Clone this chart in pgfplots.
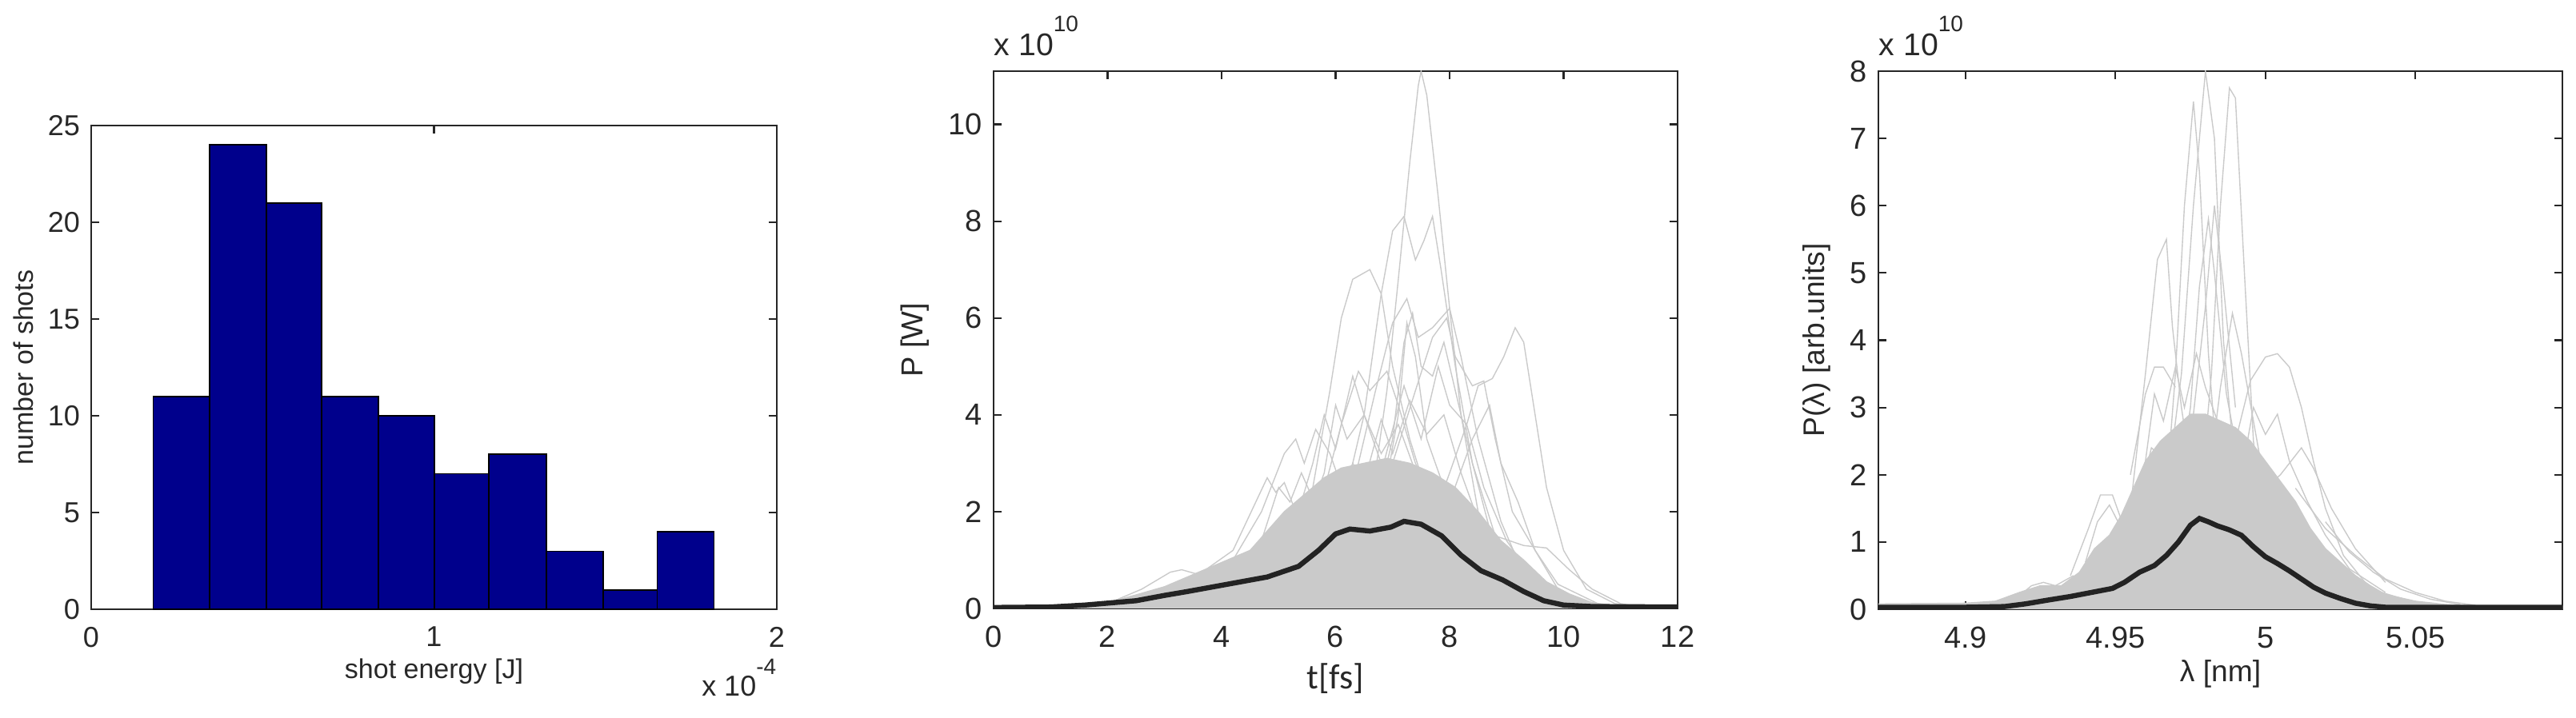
\documentclass[border=0pt]{standalone}
\usepackage{fontspec}
\setmainfont{Liberation Sans}
\newfontfamily\carlito{Carlito}
\usepackage{pgfplots}
\pgfplotsset{compat=1.18}

\definecolor{axcol}{RGB}{38,38,38}
\definecolor{txtcol}{RGB}{40,40,40}
\definecolor{histblue}{RGB}{0,0,140}
\definecolor{shotgray}{RGB}{202,202,202}
\definecolor{meancol}{RGB}{35,35,35}

\pgfplotsset{
  matlab/.style={
    scale only axis,
    anchor=south west,
    clip mode=individual,
    axis line style={axcol, line width=0.55pt},
    tick style={axcol, line width=0.55pt},
    major tick length=2.6pt,
    tick align=inside,
    /pgf/number format/assume math mode=true,
    tick label style={color=txtcol},
    label style={color=txtcol},
    xticklabel style={yshift=-2pt},
  },
  shot/.style={shotgray, line width=0.35pt, no marks},
  mean/.style={meancol, line width=1.6pt, no marks},
}

\begin{document}
\begin{tikzpicture}
\useasboundingbox (0,0) rectangle (805pt,224.5pt);

% ---- histogram of shot energies
\begin{axis}[matlab, at={(28.5pt,34pt)}, width=214.25pt, height=151.25pt,
  xmin=0, xmax=2, ymin=0, ymax=25,
  xtick={0,1,2}, ytick={0,5,...,25},
  tick label style={font=\fontsize{9}{9}\selectfont},
  xlabel={shot energy [J]}, ylabel={number of shots},
  label style={font=\fontsize{8.5}{8.5}\selectfont},
  xlabel style={at={(axis description cs:0.5,-0.129)},anchor=center},
  ylabel style={at={(axis description cs:-0.0992,0.5)},anchor=center},
]
\addplot[ybar interval, fill=histblue, draw=black, line width=0.45pt] coordinates {
(0.181,11) (0.345,24) (0.512,21) (0.672,11) (0.837,10) (1.002,7)
(1.160,8) (1.328,3) (1.493,1) (1.651,4) (1.817,4)};
\node[anchor=base east, inner sep=0, text=txtcol, font=\fontsize{9}{9}\selectfont]
  at ([yshift=-27pt]rel axis cs:1,0) {x 10\raisebox{6.75pt}{\fontsize{7}{7}\selectfont -4}};
\end{axis}

% ---- power profiles
\begin{axis}[matlab, at={(310.5pt,34.25pt)}, width=213.75pt, height=168pt,
  xmin=0, xmax=12, ymin=0, ymax=11.1,
  xtick={0,2,...,12}, ytick={0,2,...,10},
  tick label style={font=\fontsize{9.5}{9.5}\selectfont},
  xlabel={{\carlito t[fs]}}, ylabel={P [W]},
  xlabel style={font=\fontsize{11}{11}\selectfont, at={(axis description cs:0.5,-0.131)},anchor=center},
  ylabel style={font=\fontsize{9.5}{9.5}\selectfont, at={(axis description cs:-0.1146,0.5)},anchor=center},
]
\addplot[shotgray, fill=shotgray, draw=shotgray, line width=0.35pt] coordinates {
(0,0) (1.5,0.03) (2,0.12) (2.5,0.28) (3,0.45) (3.5,0.7) (4,0.95) (4.5,1.2)
(4.8,1.6) (5.1,2.0) (5.5,2.4) (5.8,2.7) (6.1,2.9) (6.5,3.0) (6.9,3.1) (7.3,3.0)
(7.7,2.8) (8.1,2.5) (8.5,2.0) (8.9,1.4) (9.3,1.0) (9.7,0.55) (10.1,0.3)
(10.5,0.12) (11,0.04) (11.5,0) (12,0)} \closedcycle;
\addplot[shot] coordinates {(6.2,0.5) (6.6,2) (6.9,4.5) (7.1,6.8) (7.3,9.2) (7.45,10.8) (7.5,11.1) (7.6,10.6) (7.8,8.5) (8.0,6.2) (8.2,4) (8.5,2) (8.9,0.8) (9.4,0.2) (10,0)};
\addplot[shot] coordinates {(7,0.5) (7.6,1.5) (8.0,2.8) (8.3,3.8) (8.5,4.6) (8.75,4.75) (8.95,5.2) (9.15,5.8) (9.3,5.5) (9.5,4) (9.7,2.5) (10,1.2) (10.4,0.4) (10.9,0.1) (11.5,0)};
\addplot[shot] coordinates {(4.5,0.2) (5.2,1) (5.6,2.5) (5.9,4.5) (6.1,6) (6.3,6.8) (6.6,7.0) (6.8,6.5) (7.0,5) (7.3,3.5) (7.7,2) (8.2,0.8) (8.8,0.2) (9.5,0)};
\addplot[shot] coordinates {(5.5,0.3) (6.0,1.5) (6.5,4) (6.8,6.5) (7.0,7.8) (7.2,8.1) (7.4,7.2) (7.55,7.6) (7.7,8.1) (7.85,7) (8.1,5) (8.4,3) (8.8,1.2) (9.3,0.3) (10,0)};
\addplot[shot] coordinates {(5.8,0.5) (6.3,2.5) (6.7,4.5) (7.0,5.9) (7.25,6.4) (7.45,5.6) (7.7,5.8) (8.0,6.2) (8.2,5.2) (8.5,3.5) (8.9,1.8) (9.3,0.7) (9.8,0.1) (10.3,0)};
\addplot[shot] coordinates {(3.5,0.5) (4.2,1) (4.7,2) (5.1,3.2) (5.3,3.5) (5.45,3.0) (5.65,3.7) (5.9,3.2) (6.2,2.2) (6.6,1.4) (7.2,0.8) (8,0.3) (9,0)};
\addplot[shot] coordinates {(3,0.3) (3.6,0.7) (4.2,1.2) (4.6,2.2) (4.8,2.7) (4.95,2.4) (5.1,2.6) (5.3,2.0) (5.7,1.5) (6.2,1.0) (7,0.4) (8,0)};
\addplot[shot] coordinates {(5.2,0.8) (5.7,2) (6.1,3.8) (6.4,4.9) (6.6,4.5) (6.9,4.9) (7.1,4.2) (7.4,3.0) (7.8,2.0) (8.4,1.0) (9,0.3) (9.6,0)};
\addplot[shot] coordinates {(6.5,1) (7.0,3) (7.4,4.5) (7.7,5.6) (7.95,6.0) (8.1,5.2) (8.4,4.6) (8.6,4.7) (8.8,3.5) (9.1,2) (9.5,1.2) (9.9,0.4) (10.5,0)};
\addplot[shot] coordinates {(8,1.5) (8.8,1.5) (9.3,1.3) (9.7,1.25) (10.1,0.8) (10.5,0.4) (11,0.1) (11.5,0)};
\addplot[shot] coordinates {(2,0.1) (2.6,0.4) (3.1,0.75) (3.3,0.8) (3.6,0.7) (4,0.9) (4.4,1.1) (5,1.4) (5.5,1.8)};
\addplot[shot] coordinates {(5.4,1.5) (5.8,2.8) (6.0,4.2) (6.2,3.5) (6.5,4.0) (6.8,3.2) (7.1,3.8) (7.5,2.5) (8,1.5) (8.6,0.6) (9.2,0)};
\addplot[shot] coordinates {(4.3,0.5) (4.7,1.4) (5.0,2.5) (5.2,2.2) (5.4,2.8) (5.7,2.0) (6.2,1.2) (7,0.5) (8,0.1)};
\addplot[shot] coordinates {(5.6,0.8) (6.0,2.0) (6.3,3.0) (6.5,2.6) (6.8,3.9) (7.0,3.2) (7.3,4.3) (7.6,3.6) (7.9,4.0) (8.2,2.8) (8.6,1.5) (9.1,0.5) (9.8,0)};
\addplot[shot] coordinates {(6.0,1.0) (6.4,2.2) (6.8,2.8) (7.2,4.6) (7.5,3.5) (7.8,5.0) (8.0,4.2) (8.3,3.8) (8.6,2.5) (9.0,1.4) (9.6,0.4) (10.2,0)};
\addplot[shot] coordinates {(4.9,1.0) (5.3,1.8) (5.6,3.0) (5.8,4.0) (6.0,3.3) (6.3,4.8) (6.5,4.0) (6.8,3.0) (7.2,2.0) (7.8,0.9) (8.5,0.2)};
\addplot[shot] coordinates {(7.5,1) (8.0,2.2) (8.4,3.5) (8.7,4.2) (8.9,3.0) (9.2,2.2) (9.5,1.2) (9.9,0.5) (10.6,0.1)};
\addplot[shot] coordinates {(6.6,1.5) (7.0,3.5) (7.2,5.5) (7.35,6.1) (7.5,5.0) (7.7,4.8) (7.9,5.5) (8.1,4.5) (8.4,3.0) (8.8,1.5) (9.3,0.5)};
\addplot[shot] coordinates {(6.8,2) (7.1,4) (7.25,5.9) (7.4,5.2) (7.6,3.5) (7.9,2.5) (8.3,1.4)};
\addplot[mean] coordinates {
(0,0.02) (1,0.03) (1.6,0.07) (2.5,0.16) (3.0,0.27) (3.4,0.35) (4.1,0.5) (4.8,0.65)
(5.35,0.87) (5.7,1.2) (6.0,1.54) (6.25,1.64) (6.6,1.6) (6.97,1.68) (7.2,1.8)
(7.5,1.74) (7.86,1.5) (8.2,1.1) (8.55,0.78) (8.93,0.59) (9.3,0.35) (9.65,0.16)
(10.0,0.07) (10.5,0.04) (12,0.03)};
\node[anchor=base west, inner sep=0, text=txtcol, font=\fontsize{9.8}{9.8}\selectfont]
  at ([yshift=4.75pt]rel axis cs:0,1) {x 10\raisebox{7.5pt}{\fontsize{7}{7}\selectfont 10}};
\end{axis}

% ---- spectra
\begin{axis}[matlab, at={(587pt,34pt)}, width=213.75pt, height=168.25pt,
  xmin=4.871, xmax=5.099, ymin=0, ymax=8,
  xtick={4.9,4.95,5,5.05}, ytick={0,1,...,8},
  tick label style={font=\fontsize{9.5}{9.5}\selectfont},
  xlabel={λ [nm]}, ylabel={P(λ) [arb.units]},
  label style={font=\fontsize{9.3}{9.3}\selectfont},
  xlabel style={at={(axis description cs:0.5,-0.1204)},anchor=center},
  ylabel style={at={(axis description cs:-0.090,0.5)},anchor=center},
]
\addplot[shotgray, fill=shotgray, draw=shotgray, line width=0.35pt] coordinates {
(4.871,0.08) (4.9,0.09) (4.91,0.12) (4.918,0.25) (4.925,0.35) (4.932,0.35)
(4.938,0.55) (4.943,0.9) (4.948,1.1) (4.952,1.4) (4.956,1.8) (4.96,2.2)
(4.965,2.5) (4.97,2.7) (4.975,2.9) (4.98,2.9) (4.985,2.8) (4.99,2.7)
(4.995,2.5) (5.0,2.2) (5.005,1.9) (5.01,1.6) (5.015,1.2) (5.02,0.9)
(5.025,0.7) (5.03,0.5) (5.035,0.35) (5.04,0.22) (5.05,0.12) (5.06,0.07)
(5.07,0.05) (5.099,0.05)} \closedcycle;
\addplot[shot] coordinates {(4.965,1) (4.972,3.5) (4.976,6) (4.98,8.0) (4.983,7) (4.986,4) (4.99,2) (4.995,1)};
\addplot[shot] coordinates {(4.978,1.5) (4.982,3.5) (4.985,6) (4.988,7.75) (4.99,7.6) (4.993,5) (4.996,2.5) (5.0,1.2)};
\addplot[shot] coordinates {(4.966,1.2) (4.97,3.5) (4.973,6) (4.976,7.55) (4.978,6.5) (4.981,3.8) (4.985,1.5)};
\addplot[shot] coordinates {(4.955,1.5) (4.96,3.5) (4.964,5.2) (4.967,5.5) (4.969,4.2) (4.972,3.0) (4.976,1.8)};
\addplot[shot] coordinates {(4.985,1) (4.99,2.5) (4.995,3.4) (5.0,3.75) (5.004,3.8) (5.008,3.6) (5.012,3.0) (5.016,2.2) (5.02,1.5) (5.026,0.8) (5.035,0.3) (5.05,0.1)};
\addplot[shot] coordinates {(4.98,1.5) (4.985,3.3) (4.989,4.4) (4.992,3.8) (4.996,2.8) (5.0,1.8)};
\addplot[shot] coordinates {(4.935,0.5) (4.941,1.2) (4.945,1.7) (4.949,1.7) (4.953,1.2) (4.958,1.3)};
\addplot[shot] coordinates {(4.955,2) (4.96,3.2) (4.963,3.6) (4.966,3.6) (4.97,3.3)};
\addplot[shot] coordinates {(5.0,1.8) (5.005,2.0) (5.012,2.4) (5.016,2.1) (5.022,1.5) (5.03,0.9) (5.04,0.4)};
\addplot[shot] coordinates {(4.975,2.5) (4.98,4.5) (4.983,6.0) (4.986,4.8) (4.99,3.0)};
\addplot[shot] coordinates {(5.01,1.8) (5.02,1.2) (5.03,0.8) (5.04,0.45) (5.05,0.25) (5.06,0.12) (5.07,0.06)};
\addplot[shot] coordinates {(4.955,1.0) (4.96,2.2) (4.963,3.2) (4.966,2.8) (4.97,3.6) (4.973,3.0) (4.977,3.8) (4.98,3.3) (4.984,2.8) (4.99,2.2) (4.995,1.5)};
\addplot[shot] coordinates {(4.97,1.5) (4.975,3.0) (4.978,4.8) (4.981,5.8) (4.983,5.0) (4.987,3.2) (4.992,2.0)};
\addplot[shot] coordinates {(4.992,2.0) (4.996,3.0) (5.0,2.6) (5.004,2.9) (5.008,2.2) (5.014,1.6) (5.02,1.1) (5.028,0.6) (5.04,0.25)};
\addplot[shot] coordinates {(4.94,0.7) (4.944,1.3) (4.948,1.55) (4.952,1.2) (4.957,1.5) (4.962,2.4) (4.967,2.2)};
\addplot[shot] coordinates {(4.918,0.2) (4.922,0.35) (4.926,0.4) (4.93,0.35) (4.936,0.5)};
\addplot[shot] coordinates {(5.02,1.3) (5.028,0.85) (5.036,0.55) (5.045,0.3) (5.055,0.15) (5.065,0.07)};
\addplot[mean] coordinates {
(4.871,0.03) (4.9,0.03) (4.913,0.04) (4.92,0.08) (4.928,0.14) (4.935,0.19)
(4.942,0.25) (4.949,0.31) (4.953,0.4) (4.958,0.55) (4.963,0.65) (4.967,0.8)
(4.971,1.0) (4.975,1.25) (4.978,1.35) (4.981,1.3) (4.984,1.24) (4.988,1.18)
(4.992,1.1) (4.996,0.93) (5.0,0.78) (5.004,0.68) (5.008,0.57) (5.012,0.45)
(5.016,0.33) (5.02,0.24) (5.025,0.16) (5.03,0.09) (5.035,0.05) (5.04,0.03)
(5.099,0.03)};
\node[anchor=base west, inner sep=0, text=txtcol, font=\fontsize{9.8}{9.8}\selectfont]
  at ([yshift=4.75pt]rel axis cs:0,1) {x 10\raisebox{7.5pt}{\fontsize{7}{7}\selectfont 10}};
\end{axis}
\end{tikzpicture}
\end{document}
